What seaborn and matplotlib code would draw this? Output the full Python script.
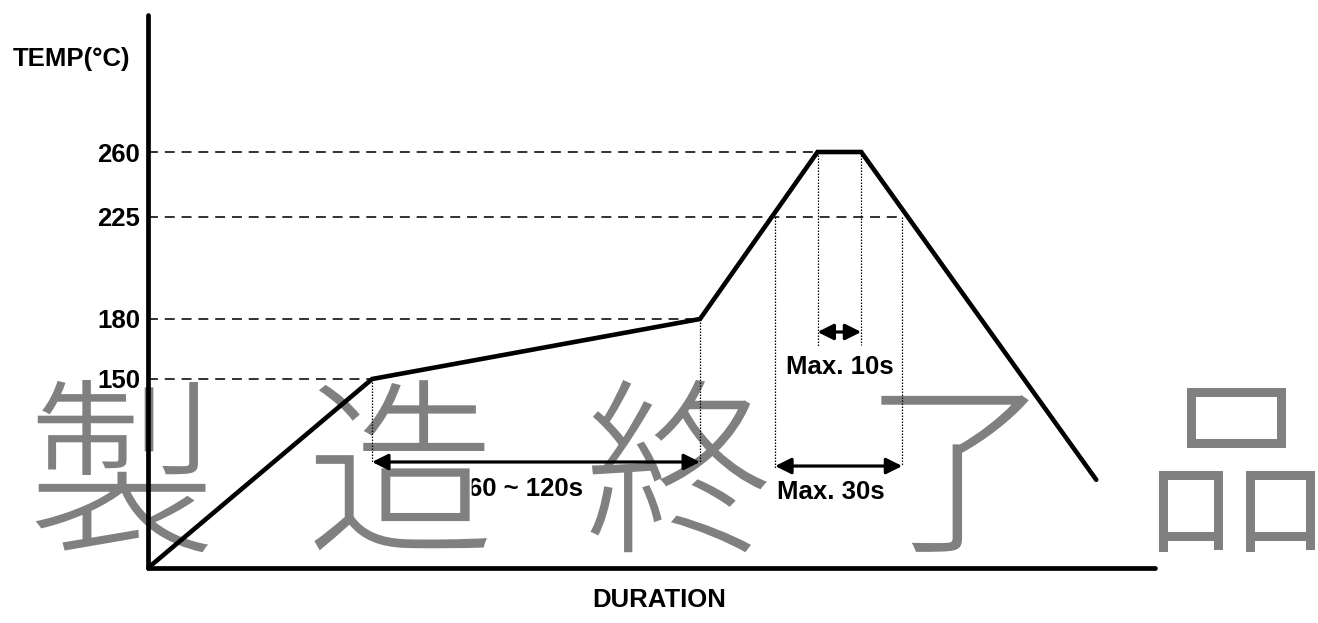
import numpy as np
import pandas as pd
import matplotlib
matplotlib.use("Agg")
import matplotlib.pyplot as plt
import matplotlib.patheffects as pe
from matplotlib.transforms import blended_transform_factory
import seaborn as sns

# Reflow soldering profile (schematic)
profile_time = [0, 82, 202, 245, 261, 347]          # s
profile_temp = [0, 150, 180, 260, 260, 70]          # °C
temp_levels = [150, 180, 225, 260]
level_labels = ["150", "180", "225", "260"]
level_ends = [82, 202, 276, 245]                    # where each dashed guide stops
t225_up, t225_down = 229.5, 276.0
preheat_span = (82, 202)
peak_span = (245, 261)
liquidus_span = (t225_up, t225_down)
watermark_chars = ["製", "造", "終", "了", "品"]

# Schematic (piecewise-linear) temperature axis
knots_t = np.array([0, 150, 180, 225, 260, 330], dtype=float)
knots_p = np.array([0, 189, 249, 351, 416, 553], dtype=float)
fwd = lambda v: np.interp(v, knots_t, knots_p)
inv = lambda v: np.interp(v, knots_p, knots_t)

sns.set_theme(style="white")
plt.rcParams["font.family"] = ["Liberation Sans", "DejaVu Sans"]
plt.rcParams.update({"text.color": "black", "axes.labelcolor": "black",
                     "ytick.color": "black", "xtick.color": "black"})

fig = plt.figure(figsize=(13.18, 6.23), dpi=100)
ax = fig.add_axes([148 / 1318, 55 / 623, 1007 / 1318, 553 / 623])
ax.set_yscale("function", functions=(fwd, inv))
ax.set_xlim(0, 368.5)
ax.set_ylim(0, 330)

df = pd.DataFrame({"time": profile_time, "temp": profile_temp})
sns.lineplot(data=df, x="time", y="temp", sort=False, estimator=None,
             color="black", lw=3.3, ax=ax, zorder=6,
             solid_joinstyle="miter", solid_capstyle="round")

# dashed temperature guides
for T, end in zip(temp_levels, level_ends):
    ax.plot([0, end], [T, T], color="#222222", lw=1.3,
            dashes=(5.5, 3.8), zorder=2)

# dotted drop lines down to the arrows
def level(frac):
    return float(inv(frac * 553))

drops = [(preheat_span[0], 150, 0.192), (preheat_span[1], 180, 0.192),
         (liquidus_span[0], 225, 0.181), (liquidus_span[1], 225, 0.186),
         (peak_span[0], 260, 0.401), (peak_span[1], 260, 0.403)]
for t, top, frac in drops:
    ax.plot([t, t], [top, level(frac)], color="black", lw=0.9,
            linestyle=(0, (1.2, 1.2)), zorder=5)

# span arrows
arrow_kw = dict(arrowstyle="<|-|>", color="black", lw=2.3,
                mutation_scale=24, shrinkA=0, shrinkB=0)
for (a, b), frac in [(preheat_span, 0.1917), (liquidus_span, 0.1844),
                     (peak_span, 0.4268)]:
    y = level(frac)
    ax.annotate("", xy=(a, y), xytext=(b, y),
                arrowprops=dict(**arrow_kw), zorder=6)

trans = blended_transform_factory(ax.transData, ax.transAxes)
txt_kw = dict(fontsize=18.5, fontweight="bold", color="black",
              transform=trans, zorder=3, va="center")
ax.text(138, 0.143, "60 ~ 120s", ha="center", **txt_kw)
ax.text(t225_up + 0.5, 0.137, "Max. 30s", ha="left", **txt_kw)
ax.text(sum(peak_span) / 2, 0.3635, "Max. 10s", ha="center", **txt_kw)

# axes styling
ax.set_yticks(temp_levels)
ax.set_yticklabels(level_labels, fontsize=18.5, fontweight="bold")
ax.set_xticks([])
ax.tick_params(axis="y", length=0, pad=5.5)
ax.yaxis.set_zorder(5)
for side in ("top", "right"):
    ax.spines[side].set_visible(False)
for side in ("left", "bottom"):
    ax.spines[side].set_color("black")
    ax.spines[side].set_linewidth(3.4)
    ax.spines[side].set_capstyle("round")
    ax.spines[side].set_zorder(6)

ax.set_ylabel("TEMP(°C)", fontsize=18.5, fontweight="bold",
              rotation=0, ha="left", va="center")
ax.yaxis.set_label_coords(-0.134, 0.920)
ax.set_xlabel("DURATION", fontsize=18.5, fontweight="bold", va="center")
ax.xaxis.set_label_coords(0.5075, -0.058)

# discontinued-product watermark
for cx, ch in zip(np.linspace(122, 1236, len(watermark_chars)), watermark_chars):
    ax.text(cx / 1318, 0.222, ch, transform=fig.transFigure,
            fontsize=136, color="#808080", ha="center", va="center",
            family=["Noto Sans CJK JP"], fontweight="light",
            zorder=4, clip_on=False,
            path_effects=[pe.withStroke(linewidth=3, foreground="white")])

fig.savefig("out.png", dpi=100, facecolor="white")
